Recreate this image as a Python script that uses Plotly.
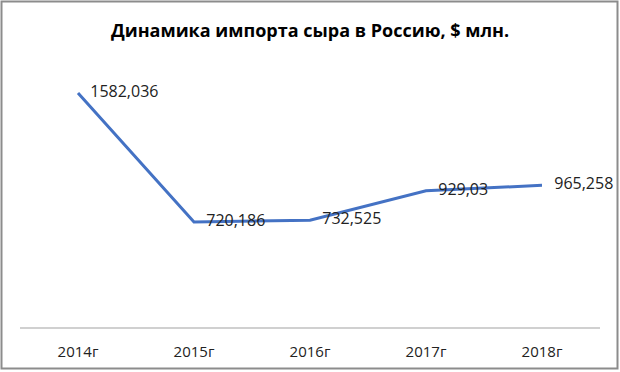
import plotly.graph_objects as go

years = ["2014г", "2015г", "2016г", "2017г", "2018г"]
values = [1582.036, 720.186, 732.525, 929.03, 965.258]
value_labels = ["1582,036", "720,186", "732,525", "929,03", "965,258"]
title_text = "Динамика импорта сыра в Россию, $ млн."

FONT = "Open Sans"
W, H = 620, 372
ML, MR, MT, MB = 20, 20, 58, 45
pw, ph = W - ML - MR, H - MT - MB

fig = go.Figure()
fig.add_trace(go.Scatter(
    x=years, y=values,
    mode="lines+markers+text",
    line=dict(color="#4472C4", width=3),
    marker=dict(size=18, color="rgba(0,0,0,0)"),
    text=value_labels,
    textposition="middle right",
    textfont=dict(family=FONT, size=16, color="#222222"),
    hoverinfo="skip",
    cliponaxis=False,
))

fig.update_layout(
    width=W, height=H,
    margin=dict(l=ML, r=MR, t=MT, b=MB),
    paper_bgcolor="white", plot_bgcolor="white",
    showlegend=False,
    title=dict(text="<b>" + title_text + "</b>", x=0.5, xanchor="center",
               y=1 - 31 / H, yanchor="middle",
               font=dict(family=FONT, size=18, color="#000000")),
    xaxis=dict(type="category", range=[-0.5, 4.5], showgrid=False,
               showline=True, linecolor="#D0D0D0", linewidth=1.5,
               ticks="", ticklabelstandoff=10,
               tickfont=dict(family=FONT, size=15, color="#222222"),
               zeroline=False, fixedrange=True),
    yaxis=dict(range=[19, 1816], visible=False, showgrid=False, zeroline=False,
               fixedrange=True),
    shapes=[dict(type="rect", xref="paper", yref="paper",
                 x0=(1.5 - ML) / pw, x1=(W - 2.5 - ML) / pw,
                 y0=(ph + MT - (H - 3.5)) / ph, y1=(ph + MT - 1.5) / ph,
                 line=dict(color="#8C8C8C", width=2), layer="above")],
)

fig.write_html("out.html",
               config={"displayModeBar": False, "staticPlot": True},
               post_script="document.body.style.margin='0';document.body.style.overflow='hidden';")
